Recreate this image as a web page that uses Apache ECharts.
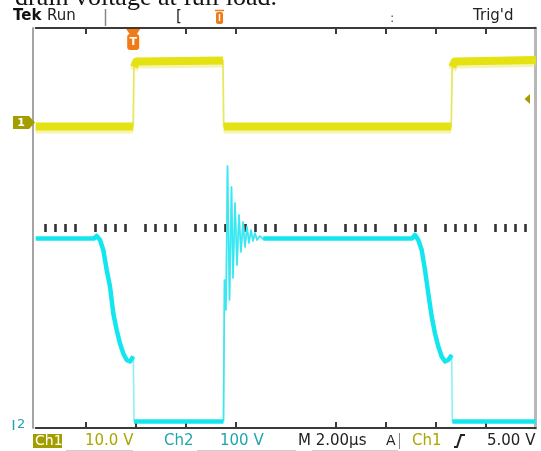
<!DOCTYPE html>
<html><head><meta charset="utf-8">
<script src="https://cdn.jsdelivr.net/npm/echarts@6/dist/echarts.min.js"></script>
<style>html,body{margin:0;padding:0;background:#fff}#c{width:541px;height:451px}</style>
</head><body><div id="c"></div>
<script>
// Time in µs (M 2.00 µs/div), Ch1 volts (10.0 V/div), Ch2 volts (100 V/div)
const ch1Low1  = [[0,-0.5],[3.90,-0.5]];
const ch1High1 = [[3.93,11.4],[4.02,12.5],[7.49,12.7]];
const ch1Low2  = [[7.52,-0.5],[16.62,-0.5]];
const ch1High2 = [[16.66,11.4],[16.76,12.5],[20,12.8]];

const ch2Fall1 = [[0,373],[2.33,373],[2.44,378],[2.572,370],[2.704,350],[2.84,310],[2.972,277],[3.104,223],[3.24,190],[3.372,163],[3.504,143],[3.64,130],[3.772,127],[3.904,137]];
const ch2Off1  = [[3.935,7],[7.51,7]];
const ch2Ring  = [[7.512,8],[7.552,290],[7.612,230],[7.672,518],[7.752,250],[7.832,476],[7.892,294],[7.972,444],[8.052,320],[8.132,420],[8.212,346],[8.292,406],[8.372,356],[8.452,396],[8.532,364],[8.612,390],[8.692,368],[8.772,384],[8.852,370],[8.972,378],[9.092,372],[9.212,375]];
const ch2On    = [[9.1,373],[15.052,373],[15.172,380],[15.304,370],[15.44,350],[15.572,310],[15.704,263],[15.84,217],[15.972,183],[16.104,157],[16.24,137],[16.372,127],[16.504,130],[16.64,140]];
const ch2Off2  = [[16.665,7],[20,7]];

const divTicks = [2,4,6,8,12,14,16,18];
const minorTicks = [];
for (let k = 0; k < 10; k++) for (let j = 1; j <= 4; j++) minorTicks.push(+(2*k + 0.4*j).toFixed(2));

const ch1Ground = 0, ch2Ground = 0, trigLevel = 5.0, trigTime = 3.9;

const chart = echarts.init(document.getElementById('c'), null, {renderer:'canvas', width:541, height:451});
const hidden = {show:false};
function xAx(extra){ return Object.assign({type:'value', min:0, max:20, axisLabel:hidden, splitLine:hidden, axisLine:{show:false, onZero:false}, axisTick:hidden}, extra); }
const Y = '#e4e212', YE = '#e8e860', C = '#14e6f0', CE = '#8cf0f8', CR = '#3ae8f2';
function line(data, y, color, width, z, shadow){
  const ls = {color, width, cap:'butt', join:'round'};
  if (shadow) { ls.shadowColor = shadow; ls.shadowOffsetY = 3; ls.shadowBlur = 0; }
  return {type:'line', data, xAxisIndex:0, yAxisIndex:y, showSymbol:false, symbol:'none', lineStyle:ls, z, silent:true, animation:false};
}
const ch1All = [].concat(ch1Low1, ch1High1, ch1Low2, ch1High2);
const ch2All = [].concat(ch2Fall1, ch2Off1, ch2Ring, ch2On, ch2Off2);
const ysh = 'rgba(232,230,80,0.45)';
const option = {
  animation:false,
  grid:{left:35.7, right:5.3, top:28, bottom:23},
  xAxis:[
    xAx({show:false}),
    xAx({position:'top', axisLine:{show:true,onZero:false,lineStyle:{color:'#3a3a3a',width:2}}, axisTick:{show:true,inside:true,length:6,customValues:divTicks,lineStyle:{color:'#3a3a3a',width:2}}}),
    xAx({position:'bottom', axisLine:{show:true,onZero:false,lineStyle:{color:'#3a3a3a',width:2}}, axisTick:{show:true,inside:true,length:6,customValues:divTicks,lineStyle:{color:'#3a3a3a',width:2}}}),
    xAx({position:'bottom', offset:-196, axisTick:{show:true,inside:true,length:8,customValues:minorTicks,lineStyle:{color:'#333',width:2.6}}})
  ],
  yAxis:[
    {type:'value', min:-60.8, max:19.2, position:'left', offset:2.5, axisLine:{show:true,onZero:false,lineStyle:{color:'#a5a5a5',width:2}}, axisTick:hidden, axisLabel:hidden, splitLine:hidden},
    {type:'value', min:-6, max:794, position:'right', axisLine:{show:true,onZero:false,lineStyle:{color:'#b8b8b8',width:3}}, axisTick:hidden, axisLabel:hidden, splitLine:hidden}
  ],
  series:[
    line(ch1All, 0, YE, 1.8, 2),
    line(ch1Low1, 0, Y, 8, 3, ysh),
    line(ch1High1, 0, Y, 8, 3, ysh),
    line(ch1Low2, 0, Y, 8, 3, ysh),
    line(ch1High2, 0, Y, 8, 3, ysh),
    line(ch2All, 1, CE, 1.6, 4),
    line(ch2Ring, 1, CR, 1.6, 5),
    line(ch2Fall1, 1, C, 4.5, 5),
    line(ch2Off1, 1, C, 4.5, 5),
    line(ch2On, 1, C, 4.5, 5),
    line(ch2Off2, 1, C, 4.5, 5)
  ]
};
chart.setOption(option);

const p1 = chart.convertToPixel({xAxisIndex:0, yAxisIndex:0}, [trigTime, ch1Ground]);
const p2 = chart.convertToPixel({xAxisIndex:0, yAxisIndex:1}, [0, ch2Ground]);
const pt = chart.convertToPixel({xAxisIndex:0, yAxisIndex:0}, [trigTime, trigLevel]);
const OL = '#a39e00', OLT = '#aba600', TE = '#22a4ae', OR = '#f07a16';
const g = [];
function txt(x, y, s, fill, font, align){
  g.push({type:'text', x, y, silent:true, z:100, style:{text:s, fill, font, align:align||'left', verticalAlign:'middle', textAlign:align||'left', textVerticalAlign:'middle'}});
}
const F = 'DejaVu Sans, sans-serif';
// header caption (cut off)
txt(15, -1.5, 'drain voltage at full load.', '#111', '26px "Liberation Serif", serif');
// top status row
txt(13, 16, 'Tek', '#111', 'bold 15px ' + F);
txt(47, 16, 'Run', '#222', '15px ' + F);
g.push({type:'line', silent:true, shape:{x1:105.5,y1:9,x2:105.5,y2:26}, style:{stroke:'#888', lineWidth:1.5}});
txt(176, 17, '[', '#222', '15px ' + F);
g.push({type:'rect', silent:true, shape:{x:216,y:12,width:7,height:12,r:2}, style:{fill:OR}});
g.push({type:'line', silent:true, shape:{x1:215,y1:10.5,x2:224,y2:10.5}, style:{stroke:OR, lineWidth:1.5}});
g.push({type:'line', silent:true, shape:{x1:219.5,y1:14,x2:219.5,y2:21}, style:{stroke:'#fff', lineWidth:1.5}});
txt(390, 19, ':', '#555', '13px ' + F);
txt(473, 16, "Trig'd", '#222', '15px ' + F);
// trigger position marker
const tx = p1[0];
g.push({type:'polygon', silent:true, z:100, shape:{points:[[tx-7,29],[tx+7,29],[tx+3,35],[tx-3,35]]}, style:{fill:OR}});
g.push({type:'rect', silent:true, z:100, shape:{x:tx-6,y:34,width:12,height:16,r:3}, style:{fill:OR}});
txt(tx, 42.5, 'T', '#fff', 'bold 11px ' + F, 'center');
// ch1 ground marker
const y1 = p1[1] - 1.5;
g.push({type:'polygon', silent:true, z:100, shape:{points:[[13,y1-6.5],[29,y1-6.5],[35,y1],[29,y1+6.5],[13,y1+6.5]]}, style:{fill:OL}});
txt(21, y1+0.5, '1', '#fff', 'bold 11px ' + F, 'center');
// ch2 ground marker
const y2 = p2[1];
g.push({type:'line', silent:true, shape:{x1:13.5,y1:y2-5,x2:13.5,y2:y2+5}, style:{stroke:TE, lineWidth:1.5}});
txt(17, y2, '2', TE, '13px ' + F);
// trigger level marker
const yt = pt[1];
g.push({type:'polygon', silent:true, z:100, shape:{points:[[524.5,yt],[530,yt-5],[530,yt+5]]}, style:{fill:OL}});
// bottom readout
g.push({type:'rect', silent:true, shape:{x:33,y:434,width:29,height:14}, style:{fill:OL}});
txt(35, 441.5, 'Ch1', '#fff', '14px ' + F);
txt(85, 441.5, '10.0 V', OLT, '15px ' + F);
txt(164, 441.5, 'Ch2', TE, '15px ' + F);
txt(220, 441.5, '100 V', TE, '15px ' + F);
txt(298, 441.5, 'M 2.00µs', '#222', '15px ' + F);
txt(386, 441.5, 'A', '#222', '14px ' + F);
g.push({type:'line', silent:true, shape:{x1:399.5,y1:433,x2:399.5,y2:449}, style:{stroke:'#888', lineWidth:1}});
txt(412, 441.5, 'Ch1', OLT, '15px ' + F);
g.push({type:'polyline', silent:true, shape:{points:[[454,447],[457,447],[461,435],[465,435]]}, style:{stroke:'#222', lineWidth:2, fill:null}});
txt(487, 441.5, '5.00 V', '#222', '15px ' + F);
[[66,133],[197,296],[312,398]].forEach(s => g.push({type:'line', silent:true, shape:{x1:s[0],y1:450.5,x2:s[1],y2:450.5}, style:{stroke:'#cfcfcf', lineWidth:1}}));
chart.setOption({graphic:g});
</script></body></html>
